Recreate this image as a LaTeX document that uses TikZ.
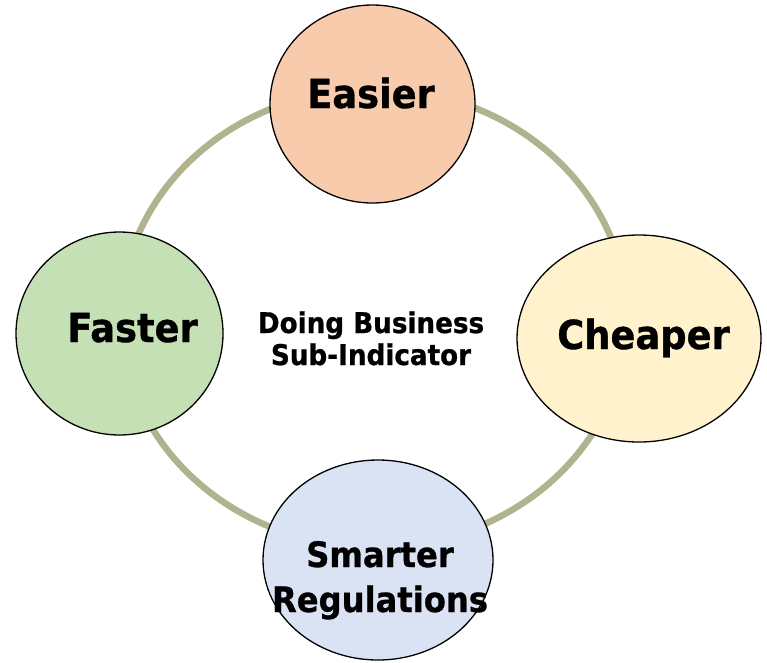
\documentclass[tikz,border=0pt]{standalone}
\usepackage{fontspec}
\setmainfont{DejaVu Sans}[FakeStretch=0.92, BoldFeatures={FakeBold=0.8}]
\usetikzlibrary{shapes.geometric}
\definecolor{ringc}{RGB}{177,179,143}
\definecolor{easyc}{RGB}{248,203,173}
\definecolor{fastc}{RGB}{197,224,180}
\definecolor{cheapc}{RGB}{255,242,204}
\definecolor{smartc}{RGB}{218,227,243}
\begin{document}
\begin{tikzpicture}[x=1pt,y=-1pt,
  bubble/.style={ellipse, draw=black, line width=1.3pt, inner sep=0pt},
  biglab/.style={font=\bfseries\fontsize{40}{45}\selectfont, anchor=base, inner sep=0pt, align=center},
  midlab/.style={font=\bfseries\fontsize{35}{45}\selectfont, anchor=base, inner sep=0pt, align=center},
  smalllab/.style={font=\bfseries\fontsize{28.5}{32}\selectfont, anchor=base, inner sep=0pt, align=center}]
\useasboundingbox (0,0) rectangle (767,662);
\draw[ringc, line width=6.5pt] (374,318) ellipse [x radius=253, y radius=229];
\node[bubble, fill=easyc, minimum width=205pt, minimum height=198pt] (easier) at (372.5,104) {};
\node[bubble, fill=fastc, minimum width=207pt, minimum height=203pt] (faster) at (119.5,333.5) {};
\node[bubble, fill=cheapc, minimum width=244pt, minimum height=207pt] (cheaper) at (639,338.5) {};
\node[bubble, fill=smartc, minimum width=230pt, minimum height=200pt] (smarter) at (378,560) {};
\node[biglab] (teasier) at (371,108) {Easier};
\node[biglab] (tfaster) at (132.5,342) {Faster};
\node[biglab] (tcheaper) at (643.5,349) {Cheaper};
\node[midlab] (tsmarter) at (380,612) {Smarter\\Regulations};
\node[smalllab] (tcenter) at (371,365) {Doing Business\\Sub-Indicator};
\end{tikzpicture}
\end{document}
